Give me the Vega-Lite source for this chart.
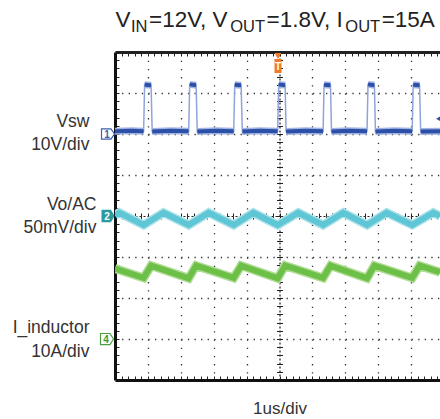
{
  "$schema": "https://vega.github.io/schema/vega-lite/v6.json",
  "width": 325,
  "height": 328,
  "autosize": {"type": "none"},
  "padding": {"left": 115, "top": 52, "right": 0, "bottom": 39},
  "background": "white",
  "config": {
    "view": {"stroke": null},
    "font": "Liberation Sans",
    "axis": {"labelFont": "Liberation Sans", "titleFont": "Liberation Sans", "zindex": 1}
  },
  "datasets": {
    "vsw": [
      {"t": -5.0, "v": 0.7, "seg": "L0"}, {"t": -4.5, "v": 0.8, "seg": "L0"}, {"t": -4.13, "v": 0.7, "seg": "L0"},
      {"t": -4.1, "v": 12.0, "seg": "H1"}, {"t": -3.903, "v": 11.9, "seg": "H1"},
      {"t": -3.87, "v": 0.6, "seg": "L1"}, {"t": -3.3, "v": 0.8, "seg": "L1"}, {"t": -2.76, "v": 0.7, "seg": "L1"},
      {"t": -2.73, "v": 12.1, "seg": "H2"}, {"t": -2.535, "v": 11.9, "seg": "H2"},
      {"t": -2.5, "v": 0.6, "seg": "L2"}, {"t": -1.9, "v": 0.8, "seg": "L2"}, {"t": -1.392, "v": 0.7, "seg": "L2"},
      {"t": -1.36, "v": 12.0, "seg": "H3"}, {"t": -1.167, "v": 11.9, "seg": "H3"},
      {"t": -1.13, "v": 0.6, "seg": "L3"}, {"t": -0.6, "v": 0.8, "seg": "L3"}, {"t": -0.055, "v": 0.7, "seg": "L3"},
      {"t": -0.025, "v": 12.1, "seg": "H4"}, {"t": 0.17, "v": 11.9, "seg": "H4"},
      {"t": 0.2, "v": 0.6, "seg": "L4"}, {"t": 0.8, "v": 0.8, "seg": "L4"}, {"t": 1.325, "v": 0.7, "seg": "L4"},
      {"t": 1.355, "v": 12.0, "seg": "H5"}, {"t": 1.55, "v": 11.9, "seg": "H5"},
      {"t": 1.58, "v": 0.6, "seg": "L5"}, {"t": 2.1, "v": 0.8, "seg": "L5"}, {"t": 2.66, "v": 0.7, "seg": "L5"},
      {"t": 2.69, "v": 12.1, "seg": "H6"}, {"t": 2.885, "v": 11.9, "seg": "H6"},
      {"t": 2.915, "v": 0.6, "seg": "L6"}, {"t": 3.5, "v": 0.8, "seg": "L6"}, {"t": 4.033, "v": 0.7, "seg": "L6"},
      {"t": 4.063, "v": 12.0, "seg": "H7"}, {"t": 4.258, "v": 11.9, "seg": "H7"},
      {"t": 4.29, "v": 0.6, "seg": "L7"}, {"t": 4.878, "v": 0.7, "seg": "L7"}
    ],
    "vo": [
      {"t": -5.0, "mv": 1.0}, {"t": -4.869, "mv": 4}, {"t": -4.128, "mv": -11},
      {"t": -3.526, "mv": 4}, {"t": -2.76, "mv": -11},
      {"t": -2.152, "mv": 4}, {"t": -1.392, "mv": -11},
      {"t": -0.796, "mv": 4}, {"t": -0.055, "mv": -11},
      {"t": 0.571, "mv": 4}, {"t": 1.325, "mv": -11},
      {"t": 1.939, "mv": 4}, {"t": 2.66, "mv": -11},
      {"t": 3.258, "mv": 4}, {"t": 4.033, "mv": -11},
      {"t": 4.675, "mv": 4}, {"t": 4.878, "mv": 0}
    ],
    "il": [
      {"t": -5.0, "a": 17.2},
      {"t": -4.128, "a": 14.9}, {"t": -3.903, "a": 17.9},
      {"t": -2.76, "a": 14.8}, {"t": -2.535, "a": 17.9},
      {"t": -1.392, "a": 14.9}, {"t": -1.167, "a": 17.9},
      {"t": -0.055, "a": 14.8}, {"t": 0.17, "a": 17.9},
      {"t": 1.325, "a": 14.9}, {"t": 1.55, "a": 17.9},
      {"t": 2.66, "a": 14.8}, {"t": 2.885, "a": 17.9},
      {"t": 4.033, "a": 14.9}, {"t": 4.258, "a": 17.9},
      {"t": 4.878, "a": 16.3}
    ]
  },
  "resolve": {
    "scale": {"x": "shared", "y": "independent"},
    "axis": {"x": "independent", "y": "independent"}
  },
  "layer": [
    {
      "data": {"values": [{}]},
      "mark": {"type": "point", "opacity": 0},
      "encoding": {
        "x": {"datum": 0, "type": "quantitative", "scale": {"domain": [-5, 4.878], "nice": false, "zero": false},
          "axis": {"orient": "bottom", "values": [-4, -3, -2, -1, 1, 2, 3, 4], "grid": true, "gridColor": "#333", "gridWidth": 1.3, "gridDash": [1.3, 6.9], "ticks": false, "labels": false, "domain": false, "title": null}},
        "y": {"datum": 0, "type": "quantitative", "scale": {"domain": [-4, 4], "nice": false, "zero": false},
          "axis": {"orient": "left", "values": [-3, -2, -1, 1, 2, 3], "grid": true, "gridColor": "#333", "gridWidth": 1.3, "gridDash": [1.3, 5.28], "ticks": false, "labels": false, "domain": false, "title": null}}
      }
    },
    {
      "data": {"values": [{}]},
      "mark": {"type": "point", "opacity": 0},
      "encoding": {
        "x": {"datum": 0, "type": "quantitative", "scale": {"domain": [-5, 4.878], "nice": false, "zero": false},
          "axis": {"orient": "bottom", "values": [-4.8,-4.6,-4.4,-4.2,-4,-3.8,-3.6,-3.4,-3.2,-3,-2.8,-2.6,-2.4,-2.2,-2,-1.8,-1.6,-1.4,-1.2,-1,-0.8,-0.6,-0.4,-0.2,0,0.2,0.4,0.6,0.8,1,1.2,1.4,1.6,1.8,2,2.2,2.4,2.6,2.8,3,3.2,3.4,3.6,3.8,4,4.2,4.4,4.6,4.8],
            "grid": false, "ticks": true, "tickSize": -4, "tickColor": "#222", "tickWidth": 1, "labels": false,
            "domain": true, "domainColor": "#111", "domainWidth": 3,
            "title": "1us/div", "titleFontSize": 17, "titleFontWeight": "normal", "titleColor": "#333",
            "titleX": 164.5, "titleY": 33, "titleAlign": "center", "titleBaseline": "alphabetic", "titleAnchor": null}},
        "y": {"datum": 0, "type": "quantitative", "scale": {"domain": [-4, 4], "nice": false, "zero": false},
          "axis": {"orient": "left", "values": [-3.8,-3.6,-3.4,-3.2,-3,-2.8,-2.6,-2.4,-2.2,-2,-1.8,-1.6,-1.4,-1.2,-1,-0.8,-0.6,-0.4,-0.2,0,0.2,0.4,0.6,0.8,1,1.2,1.4,1.6,1.8,2,2.2,2.4,2.6,2.8,3,3.2,3.4,3.6,3.8],
            "grid": false, "ticks": true, "tickSize": -4, "tickColor": "#222", "labels": false,
            "domain": true, "domainColor": "#111", "domainWidth": 3, "title": null}}
      }
    },
    {
      "data": {"values": [{}]},
      "mark": {"type": "point", "opacity": 0},
      "encoding": {
        "x": {"datum": 0, "type": "quantitative", "scale": {"domain": [-5, 4.878], "nice": false, "zero": false},
          "axis": {"orient": "top", "values": [-4.8,-4.6,-4.4,-4.2,-4,-3.8,-3.6,-3.4,-3.2,-3,-2.8,-2.6,-2.4,-2.2,-2,-1.8,-1.6,-1.4,-1.2,-1,-0.8,-0.6,-0.4,-0.2,0,0.2,0.4,0.6,0.8,1,1.2,1.4,1.6,1.8,2,2.2,2.4,2.6,2.8,3,3.2,3.4,3.6,3.8,4,4.2,4.4,4.6,4.8],
            "grid": false, "ticks": true, "tickSize": -4, "tickColor": "#222", "labels": false,
            "domain": true, "domainColor": "#222", "domainWidth": 3, "title": null}},
        "y": {"datum": 0, "type": "quantitative", "scale": {"domain": [-4, 4], "nice": false, "zero": false},
          "axis": {"orient": "left", "offset": -164.5, "values": [-3.8,-3.6,-3.4,-3.2,-3,-2.8,-2.6,-2.4,-2.2,-2,-1.8,-1.6,-1.4,-1.2,-1,-0.8,-0.6,-0.4,-0.2,0,0.2,0.4,0.6,0.8,1,1.2,1.4,1.6,1.8,2,2.2,2.4,2.6,2.8,3,3.2,3.4,3.6,3.8],
            "grid": false, "ticks": true, "tickSize": 3, "tickColor": "#222", "labels": false,
            "domain": true, "domainColor": "#222", "domainWidth": 1.2, "domainDash": [2, 2], "title": null}}
      }
    },
    {
      "data": {"values": [{}]},
      "mark": {"type": "point", "opacity": 0},
      "encoding": {
        "x": {"datum": 0, "type": "quantitative", "scale": {"domain": [-5, 4.878], "nice": false, "zero": false},
          "axis": {"orient": "bottom", "offset": -164, "values": [-4.8,-4.6,-4.4,-4.2,-4,-3.8,-3.6,-3.4,-3.2,-3,-2.8,-2.6,-2.4,-2.2,-2,-1.8,-1.6,-1.4,-1.2,-1,-0.8,-0.6,-0.4,-0.2,0,0.2,0.4,0.6,0.8,1,1.2,1.4,1.6,1.8,2,2.2,2.4,2.6,2.8,3,3.2,3.4,3.6,3.8,4,4.2,4.4,4.6,4.8],
            "grid": false, "ticks": true, "tickSize": 3, "tickColor": "#222", "labels": false,
            "domain": true, "domainColor": "#222", "domainWidth": 1.2, "domainDash": [2, 2], "title": null}},
        "y": {"datum": 0, "type": "quantitative", "scale": {"domain": [-4, 4], "nice": false, "zero": false},
          "axis": {"orient": "right", "offset": -160.5, "values": [-3.8,-3.6,-3.4,-3.2,-3,-2.8,-2.6,-2.4,-2.2,-2,-1.8,-1.6,-1.4,-1.2,-1,-0.8,-0.6,-0.4,-0.2,0,0.2,0.4,0.6,0.8,1,1.2,1.4,1.6,1.8,2,2.2,2.4,2.6,2.8,3,3.2,3.4,3.6,3.8],
            "grid": false, "ticks": true, "tickSize": 3, "tickColor": "#222", "labels": false,
            "domain": false, "title": null}}
      }
    },
    {
      "data": {"values": [{}]},
      "mark": {"type": "point", "opacity": 0},
      "encoding": {
        "x": {"datum": 0, "type": "quantitative", "scale": {"domain": [-5, 4.878], "nice": false, "zero": false},
          "axis": {"orient": "top", "offset": -164, "values": [-4.8,-4.6,-4.4,-4.2,-4,-3.8,-3.6,-3.4,-3.2,-3,-2.8,-2.6,-2.4,-2.2,-2,-1.8,-1.6,-1.4,-1.2,-1,-0.8,-0.6,-0.4,-0.2,0,0.2,0.4,0.6,0.8,1,1.2,1.4,1.6,1.8,2,2.2,2.4,2.6,2.8,3,3.2,3.4,3.6,3.8,4,4.2,4.4,4.6,4.8],
            "grid": false, "ticks": true, "tickSize": 3, "tickColor": "#222", "labels": false,
            "domain": false, "title": null}},
        "y": {"datum": 0, "type": "quantitative", "scale": {"domain": [-4, 4], "nice": false, "zero": false},
          "axis": {"orient": "left", "values": [2.195, 1.622, -2.841, -3.415],
            "labelExpr": "abs(datum.value-2.195)<0.01 ? 'Vsw' : abs(datum.value-1.622)<0.01 ? '10V/div' : abs(datum.value+2.841)<0.01 ? 'I_inductor' : '10A/div'",
            "labels": true, "ticks": false, "tickSize": 0, "domain": false, "grid": false,
            "labelPadding": 26, "labelAlign": "right", "labelBaseline": "alphabetic", "labelFontSize": 17.5, "labelColor": "#333",
            "labelOverlap": false, "labelFlush": false, "labelBound": false, "title": null}}
      }
    },
    {
      "data": {"values": [{}]},
      "mark": {"type": "point", "opacity": 0},
      "encoding": {
        "x": {"datum": 0, "type": "quantitative", "scale": {"domain": [-5, 4.878], "nice": false, "zero": false},
          "axis": {"orient": "top", "values": [-5, -3.982, -0.407, 3.091],
            "labelExpr": "datum.value < -4.5 ? 'V' : datum.value < -3 ? '=12V, V' : datum.value < 0 ? '=1.8V, I' : '=15A'",
            "labels": true, "ticks": false, "tickSize": 0, "domain": false, "grid": false,
            "labelPadding": 25.3, "labelAlign": "left", "labelBaseline": "alphabetic", "labelFontSize": 22.5, "labelColor": "#222",
            "labelOverlap": false, "labelFlush": false, "labelBound": false, "title": null}},
        "y": {"datum": 0, "type": "quantitative", "scale": {"domain": [-4, 4], "nice": false, "zero": false},
          "axis": {"orient": "left", "values": [0.163, -0.407],
            "labelExpr": "datum.value > 0 ? 'Vo/AC' : '50mV/div'",
            "labels": true, "ticks": false, "tickSize": 0, "domain": false, "grid": false,
            "labelPadding": 19, "labelAlign": "right", "labelBaseline": "alphabetic", "labelFontSize": 17.5, "labelColor": "#333",
            "labelOverlap": false, "labelFlush": false, "labelBound": false, "title": null}}
      }
    },
    {
      "data": {"values": [{}]},
      "mark": {"type": "point", "opacity": 0},
      "encoding": {
        "x": {"datum": 0, "type": "quantitative", "scale": {"domain": [-5, 4.878], "nice": false, "zero": false},
          "axis": {"orient": "top", "values": [-4.529, -1.514, 1.985],
            "labelExpr": "datum.value < -4 ? 'IN' : 'OUT'",
            "labels": true, "ticks": false, "tickSize": 0, "domain": false, "grid": false,
            "labelPadding": 20.3, "labelAlign": "left", "labelBaseline": "alphabetic", "labelFontSize": 16.5, "labelColor": "#222",
            "labelOverlap": false, "labelFlush": false, "labelBound": false, "title": null}},
        "y": {"datum": 0, "type": "quantitative", "scale": {"domain": [-4, 4], "nice": false, "zero": false}, "axis": null}
      }
    },
    {
      "encoding": {
        "y": {"field": "v", "type": "quantitative", "scale": {"domain": [-60, 20], "nice": false, "zero": false}, "axis": null}
      },
      "layer": [
        {"data": {"name": "vsw"}, "mark": {"type": "line", "color": "#8fa5da", "strokeWidth": 1.5, "clip": true},
         "encoding": {"x": {"field": "t", "type": "quantitative", "scale": {"domain": [-5, 4.878], "nice": false, "zero": false}, "axis": null}}},
        {"data": {"name": "vsw"}, "mark": {"type": "line", "color": "#a3b4e2", "strokeWidth": 7, "clip": true},
         "encoding": {"x": {"field": "t", "type": "quantitative", "scale": {"domain": [-5, 4.878], "nice": false, "zero": false}, "axis": null}, "detail": {"field": "seg"}}},
        {"data": {"name": "vsw"}, "mark": {"type": "line", "color": "#2c50a8", "strokeWidth": 4, "clip": true},
         "encoding": {"x": {"field": "t", "type": "quantitative", "scale": {"domain": [-5, 4.878], "nice": false, "zero": false}, "axis": null}, "detail": {"field": "seg"}}},
        {"data": {"values": [{"v": 0, "ch": "1"}]},
         "mark": {"type": "point", "shape": "M-1,-0.8 L0.45,-0.8 L1,0 L0.45,0.8 L-1,0.8 Z", "size": 169, "filled": true, "fill": "white", "stroke": "#3d5fb3", "strokeWidth": 1.2, "opacity": 1, "xOffset": -7},
         "encoding": {"x": {"datum": -5, "type": "quantitative", "scale": {"domain": [-5, 4.878], "nice": false, "zero": false}, "axis": null}}},
        {"data": {"values": [{"v": 0, "ch": "1"}]},
         "mark": {"type": "text", "color": "#3d5fb3", "fontSize": 10, "fontWeight": "bold", "align": "center", "baseline": "middle", "xOffset": -8, "yOffset": 0.5},
         "encoding": {"x": {"datum": -5, "type": "quantitative", "scale": {"domain": [-5, 4.878], "nice": false, "zero": false}, "axis": null}, "text": {"field": "ch"}}},
        {"data": {"values": [{"v": 3.7}]},
         "mark": {"type": "point", "shape": "triangle-left", "size": 80, "filled": true, "color": "#2c50a8", "opacity": 1},
         "encoding": {"x": {"datum": 4.878, "type": "quantitative", "scale": {"domain": [-5, 4.878], "nice": false, "zero": false}, "axis": null}}}
      ]
    },
    {
      "encoding": {
        "y": {"field": "mv", "type": "quantitative", "scale": {"domain": [-200, 200], "nice": false, "zero": false}, "axis": null}
      },
      "layer": [
        {"data": {"name": "vo"}, "mark": {"type": "line", "color": "#aee2ea", "strokeWidth": 9, "clip": true},
         "encoding": {"x": {"field": "t", "type": "quantitative", "scale": {"domain": [-5, 4.878], "nice": false, "zero": false}, "axis": null}}},
        {"data": {"name": "vo"}, "mark": {"type": "line", "color": "#5ec6d5", "strokeWidth": 6, "clip": true},
         "encoding": {"x": {"field": "t", "type": "quantitative", "scale": {"domain": [-5, 4.878], "nice": false, "zero": false}, "axis": null}}},
        {"data": {"values": [{"mv": 0, "ch": "2"}]},
         "mark": {"type": "point", "shape": "M-1,-0.95 L0.45,-0.95 L1,0 L0.45,0.95 L-1,0.95 Z", "size": 169, "filled": true, "fill": "#2a9ca0", "strokeWidth": 0, "opacity": 1, "xOffset": -7},
         "encoding": {"x": {"datum": -5, "type": "quantitative", "scale": {"domain": [-5, 4.878], "nice": false, "zero": false}, "axis": null}}},
        {"data": {"values": [{"mv": 0, "ch": "2"}]},
         "mark": {"type": "text", "color": "white", "fontSize": 10, "fontWeight": "bold", "align": "center", "baseline": "middle", "xOffset": -8, "yOffset": 0.5},
         "encoding": {"x": {"datum": -5, "type": "quantitative", "scale": {"domain": [-5, 4.878], "nice": false, "zero": false}, "axis": null}, "text": {"field": "ch"}}}
      ]
    },
    {
      "encoding": {
        "y": {"field": "a", "type": "quantitative", "scale": {"domain": [-10, 70], "nice": false, "zero": false}, "axis": null}
      },
      "layer": [
        {"data": {"name": "il"}, "mark": {"type": "line", "color": "#b2dc98", "strokeWidth": 9, "clip": true},
         "encoding": {"x": {"field": "t", "type": "quantitative", "scale": {"domain": [-5, 4.878], "nice": false, "zero": false}, "axis": null}}},
        {"data": {"name": "il"}, "mark": {"type": "line", "color": "#6cbf47", "strokeWidth": 6, "clip": true},
         "encoding": {"x": {"field": "t", "type": "quantitative", "scale": {"domain": [-5, 4.878], "nice": false, "zero": false}, "axis": null}}},
        {"data": {"values": [{"a": 0, "ch": "4"}]},
         "mark": {"type": "point", "shape": "M-1,-0.85 L0.45,-0.85 L1,0 L0.45,0.85 L-1,0.85 Z", "size": 169, "filled": true, "fill": "white", "stroke": "#4aa040", "strokeWidth": 1.2, "opacity": 1, "xOffset": -8},
         "encoding": {"x": {"datum": -5, "type": "quantitative", "scale": {"domain": [-5, 4.878], "nice": false, "zero": false}, "axis": null}}},
        {"data": {"values": [{"a": 0, "ch": "4"}]},
         "mark": {"type": "text", "color": "#3c9a3a", "fontSize": 10, "fontWeight": "bold", "align": "center", "baseline": "middle", "xOffset": -9, "yOffset": 0.5},
         "encoding": {"x": {"datum": -5, "type": "quantitative", "scale": {"domain": [-5, 4.878], "nice": false, "zero": false}, "axis": null}, "text": {"field": "ch"}}}
      ]
    },
    {
      "data": {"values": [{"trig": "T"}]},
      "encoding": {
        "x": {"datum": 0, "type": "quantitative", "scale": {"domain": [-5, 4.878], "nice": false, "zero": false}, "axis": null},
        "y": {"datum": 4, "type": "quantitative", "scale": {"domain": [-4, 4], "nice": false, "zero": false}, "axis": null}
      },
      "layer": [
        {"mark": {"type": "point", "shape": "triangle-down", "size": 45, "filled": true, "color": "#f27a22", "opacity": 1, "yOffset": 4, "xOffset": -1.5}},
        {"mark": {"type": "point", "shape": "M-0.5,-1 L0.5,-1 L0.5,1 L-0.5,1 Z", "size": 196, "filled": true, "color": "#f27a22", "opacity": 1, "yOffset": 14, "xOffset": -1.5}},
        {"mark": {"type": "text", "color": "white", "fontSize": 10, "fontWeight": "bold", "align": "center", "baseline": "middle", "yOffset": 14.5, "xOffset": -1.5}, "encoding": {"text": {"field": "trig"}}}
      ]
    }
  ]
}
